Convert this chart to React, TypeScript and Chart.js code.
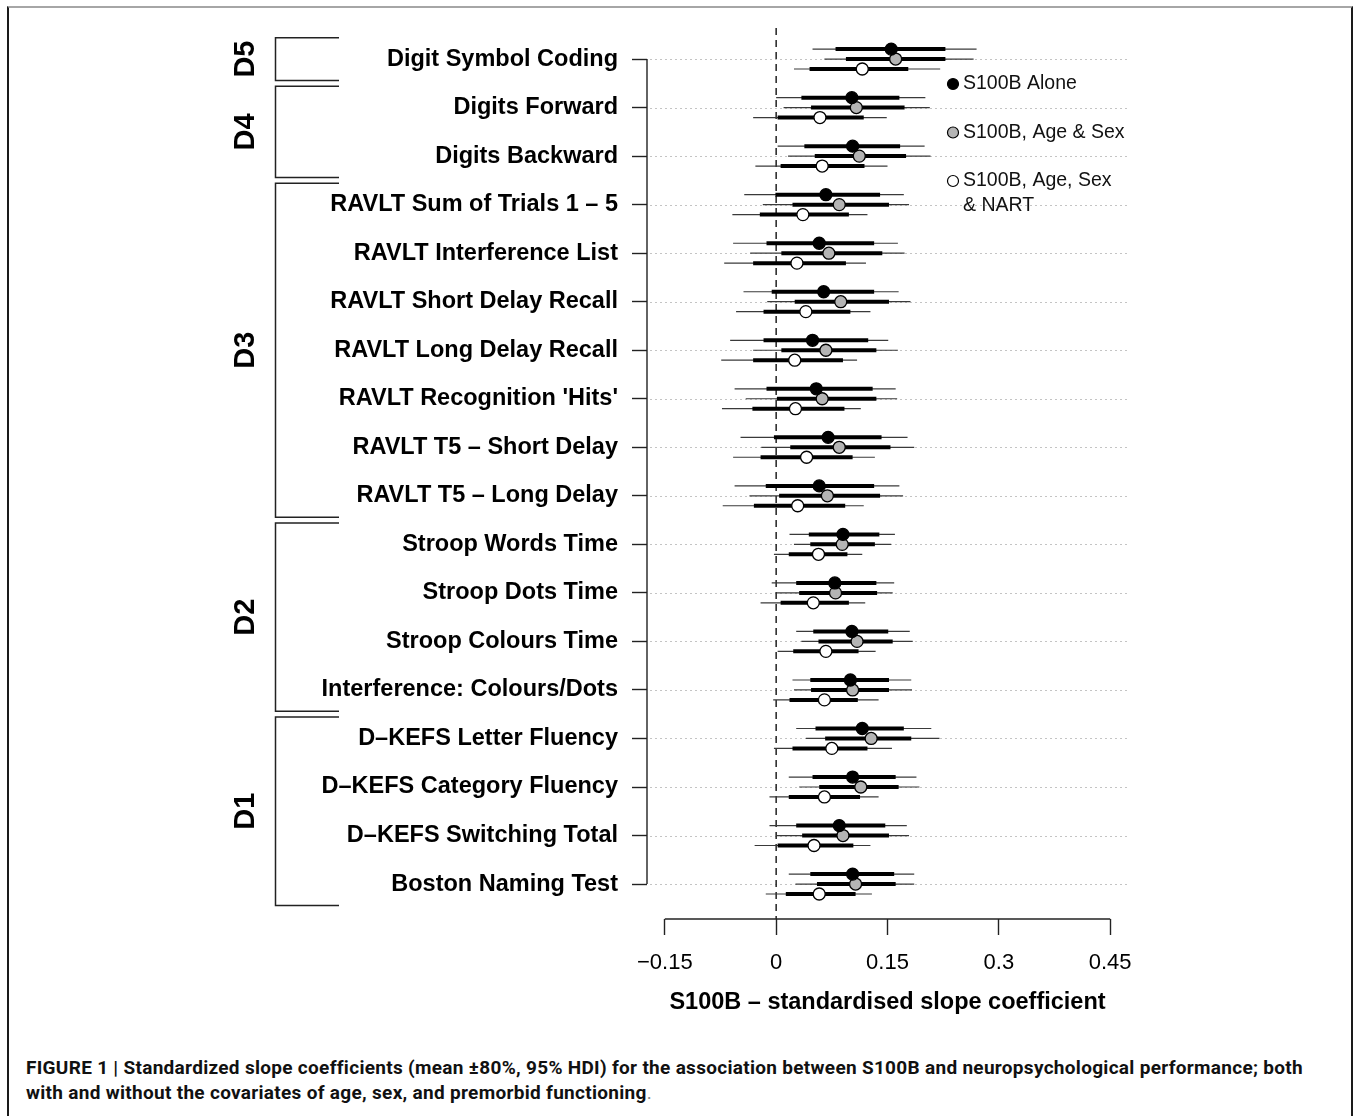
import { useEffect, useRef } from "react";
import { Chart, registerables } from "chart.js";

Chart.register(...registerables);

const categories = [
  "Digit Symbol Coding",
  "Digits Forward",
  "Digits Backward",
  "RAVLT Sum of Trials 1 \u2013 5",
  "RAVLT Interference List",
  "RAVLT Short Delay Recall",
  "RAVLT Long Delay Recall",
  "RAVLT Recognition 'Hits'",
  "RAVLT T5 \u2013 Short Delay",
  "RAVLT T5 \u2013 Long Delay",
  "Stroop Words Time",
  "Stroop Dots Time",
  "Stroop Colours Time",
  "Interference: Colours/Dots",
  "D\u2013KEFS Letter Fluency",
  "D\u2013KEFS Category Fluency",
  "D\u2013KEFS Switching Total",
  "Boston Naming Test",
];

const aloneMean = [0.155, 0.102, 0.103, 0.067, 0.058, 0.064, 0.049, 0.054, 0.070, 0.058, 0.090, 0.079, 0.102, 0.100, 0.116, 0.103, 0.085, 0.103];
const aloneLo80 = [0.080, 0.034, 0.038, -0.001, -0.013, -0.006, -0.017, -0.013, -0.003, -0.014, 0.044, 0.027, 0.050, 0.046, 0.053, 0.049, 0.027, 0.046];
const aloneHi80 = [0.228, 0.166, 0.167, 0.140, 0.132, 0.132, 0.124, 0.130, 0.142, 0.132, 0.139, 0.135, 0.151, 0.152, 0.172, 0.161, 0.147, 0.159];
const aloneLo95 = [0.049, 0.000, 0.002, -0.043, -0.058, -0.044, -0.062, -0.056, -0.048, -0.056, 0.018, -0.006, 0.027, 0.022, 0.027, 0.017, -0.009, 0.017];
const aloneHi95 = [0.270, 0.201, 0.200, 0.172, 0.164, 0.165, 0.151, 0.161, 0.177, 0.166, 0.160, 0.159, 0.180, 0.182, 0.209, 0.189, 0.176, 0.186];

const ageSexMean = [0.161, 0.108, 0.112, 0.085, 0.071, 0.087, 0.067, 0.062, 0.085, 0.069, 0.089, 0.080, 0.109, 0.103, 0.128, 0.114, 0.090, 0.107];
const ageSexLo80 = [0.094, 0.047, 0.052, 0.022, 0.007, 0.025, 0.007, 0.001, 0.019, 0.004, 0.046, 0.031, 0.057, 0.047, 0.066, 0.058, 0.035, 0.055];
const ageSexHi80 = [0.228, 0.173, 0.175, 0.152, 0.143, 0.152, 0.135, 0.135, 0.154, 0.140, 0.133, 0.136, 0.157, 0.152, 0.182, 0.165, 0.152, 0.161];
const ageSexLo95 = [0.065, 0.010, 0.016, -0.018, -0.035, -0.012, -0.031, -0.041, -0.020, -0.036, 0.024, 0.000, 0.034, 0.024, 0.040, 0.031, 0.001, 0.026];
const ageSexHi95 = [0.266, 0.207, 0.208, 0.179, 0.173, 0.181, 0.164, 0.163, 0.186, 0.171, 0.155, 0.157, 0.184, 0.183, 0.220, 0.193, 0.179, 0.186];

const nartMean = [0.116, 0.059, 0.062, 0.036, 0.028, 0.040, 0.025, 0.026, 0.041, 0.029, 0.057, 0.050, 0.067, 0.065, 0.075, 0.065, 0.051, 0.058];
const nartLo80 = [0.045, 0.002, 0.006, -0.022, -0.031, -0.017, -0.031, -0.032, -0.021, -0.030, 0.017, 0.006, 0.023, 0.018, 0.022, 0.017, 0.002, 0.013];
const nartHi80 = [0.178, 0.118, 0.119, 0.098, 0.094, 0.100, 0.090, 0.092, 0.103, 0.093, 0.096, 0.098, 0.111, 0.110, 0.123, 0.113, 0.104, 0.107];
const nartLo95 = [0.024, -0.031, -0.028, -0.059, -0.070, -0.054, -0.074, -0.073, -0.058, -0.072, -0.003, -0.021, 0.002, -0.004, -0.003, -0.009, -0.029, -0.014];
const nartHi95 = [0.221, 0.149, 0.150, 0.123, 0.121, 0.127, 0.109, 0.114, 0.133, 0.118, 0.116, 0.120, 0.134, 0.138, 0.156, 0.138, 0.127, 0.129];

const xTickValues = [-0.15, 0, 0.15, 0.3, 0.45];
const xTickLabels = ["\u22120.15", "0", "0.15", "0.3", "0.45"];

const domainLabels = ["D5", "D4", "D3", "D2", "D1"];
const domainFirst = [0, 1, 3, 10, 14];
const domainLast = [0, 2, 9, 13, 17];

const legendLines = [["S100B Alone"], ["S100B, Age & Sex"], ["S100B, Age, Sex", "& NART"]];
const axisTitle = "S100B \u2013 standardised slope coefficient";

const FONT = "'Liberation Sans', Arial, Helvetica, sans-serif";

const series = [
  { mean: aloneMean, lo80: aloneLo80, hi80: aloneHi80, lo95: aloneLo95, hi95: aloneHi95, fill: "#000000", off: -0.205 },
  { mean: ageSexMean, lo80: ageSexLo80, hi80: ageSexHi80, lo95: ageSexLo95, hi95: ageSexHi95, fill: "#b4b4b4", off: 0 },
  { mean: nartMean, lo80: nartLo80, hi80: nartHi80, lo95: nartLo95, hi95: nartHi95, fill: "#ffffff", off: 0.205 },
];

const overlay = {
  id: "overlay",
  beforeDatasetsDraw(chart: any) {
    const { ctx, chartArea, scales } = chart;
    const x = scales.x;
    const y = scales.y;
    ctx.save();
    ctx.strokeStyle = "#c4c4c4";
    ctx.lineWidth = 1;
    ctx.setLineDash([2, 3]);
    categories.forEach((_, i) => {
      const py = Math.round(y.getPixelForValue(i)) + 0.5;
      ctx.beginPath();
      ctx.moveTo(chartArea.left + 3, py);
      ctx.lineTo(chartArea.right, py);
      ctx.stroke();
    });
    ctx.strokeStyle = "#222";
    ctx.lineWidth = 1.5;
    ctx.setLineDash([7, 5]);
    const px0 = x.getPixelForValue(0);
    ctx.beginPath();
    ctx.moveTo(px0, chartArea.top);
    ctx.lineTo(px0, chartArea.bottom);
    ctx.stroke();
    ctx.restore();
  },
  afterDraw(chart: any) {
    const { ctx, chartArea, scales } = chart;
    const x = scales.x;
    const y = scales.y;
    ctx.save();
    ctx.setLineDash([]);
    ctx.strokeStyle = "#222";
    ctx.lineWidth = 1.4;
    ctx.beginPath();
    ctx.moveTo(x.getPixelForValue(xTickValues[0]), chartArea.bottom);
    ctx.lineTo(x.getPixelForValue(xTickValues[xTickValues.length - 1]), chartArea.bottom);
    ctx.stroke();
    ctx.beginPath();
    ctx.moveTo(chartArea.left, y.getPixelForValue(0));
    ctx.lineTo(chartArea.left, y.getPixelForValue(categories.length - 1));
    ctx.stroke();

    const bx = 275.5;
    const bxEnd = 339;
    ctx.lineWidth = 1.5;
    domainLabels.forEach((lab, k) => {
      const yTop = y.getPixelForValue(domainFirst[k] - 0.44);
      const yBot = y.getPixelForValue(domainLast[k] + 0.44);
      ctx.beginPath();
      ctx.moveTo(bxEnd, yTop);
      ctx.lineTo(bx, yTop);
      ctx.lineTo(bx, yBot);
      ctx.lineTo(bxEnd, yBot);
      ctx.stroke();
      const cy = y.getPixelForValue((domainFirst[k] + domainLast[k]) / 2);
      const size = 29;
      ctx.save();
      ctx.translate(243.5, cy);
      ctx.rotate(-Math.PI / 2);
      ctx.font = `bold ${size}px ${FONT}`;
      ctx.fillStyle = "#000";
      ctx.textAlign = "center";
      ctx.textBaseline = "alphabetic";
      ctx.fillText(lab, 0, size * 0.716 / 2);
      ctx.restore();
    });

    const lx = 953;
    const ty0 = 84;
    const rowStep = 48.5;
    ctx.font = `19.5px ${FONT}`;
    ctx.textAlign = "left";
    ctx.textBaseline = "middle";
    legendLines.forEach((lines, k) => {
      const ly = ty0 + k * rowStep;
      ctx.beginPath();
      ctx.arc(lx, ly, 5.5, 0, Math.PI * 2);
      ctx.fillStyle = series[k].fill;
      ctx.fill();
      ctx.lineWidth = 1.2;
      ctx.strokeStyle = "#000";
      ctx.stroke();
      ctx.fillStyle = "#111";
      lines.forEach((t, j) => ctx.fillText(t, lx + 10, ly + j * 25));
    });

    ctx.font = `bold 23.5px ${FONT}`;
    ctx.fillStyle = "#000";
    ctx.textAlign = "center";
    ctx.textBaseline = "middle";
    ctx.fillText(axisTitle, (chartArea.left + chartArea.right) / 2, chartArea.bottom + 84);
    ctx.restore();
  },
};

export default function App() {
  const ref = useRef<HTMLCanvasElement>(null);

  useEffect(() => {
    if (!ref.current) return;
    const datasets: any[] = [];
    series.forEach((s) => {
      datasets.push({
        label: "points",
        data: s.mean.map((m, i) => ({ x: m, y: i + s.off })),
        pointRadius: 6,
        pointBackgroundColor: s.fill,
        pointBorderColor: "#000",
        pointBorderWidth: 1.3,
        showLine: false,
      });
    });
    series.forEach((s) => {
      categories.forEach((_, i) => {
        datasets.push({
          label: "80",
          data: [
            { x: s.lo80[i], y: i + s.off },
            { x: s.hi80[i], y: i + s.off },
          ],
          showLine: true,
          borderColor: "#000",
          borderWidth: 4,
          borderCapStyle: "butt",
          pointRadius: 0,
        });
      });
    });
    series.forEach((s) => {
      categories.forEach((_, i) => {
        datasets.push({
          label: "95",
          data: [
            { x: s.lo95[i], y: i + s.off },
            { x: s.hi95[i], y: i + s.off },
          ],
          showLine: true,
          borderColor: "#3a3a3a",
          borderWidth: 1.2,
          borderCapStyle: "butt",
          pointRadius: 0,
        });
      });
    });

    const chart = new Chart(ref.current, {
      type: "scatter",
      data: { datasets },
      plugins: [overlay],
      options: {
        animation: false,
        responsive: false,
        devicePixelRatio: 1,
        events: [],
        layout: { padding: { left: 0, top: 28, right: 226, bottom: 0 } },
        plugins: { legend: { display: false }, tooltip: { enabled: false } },
        scales: {
          x: {
            type: "linear",
            min: -0.174,
            max: 0.474,
            border: { display: false },
            grid: {
              display: true,
              drawOnChartArea: false,
              drawTicks: true,
              tickLength: 16,
              tickColor: "#222",
              tickWidth: 1.4,
            },
            ticks: {
              autoSkip: false,
              maxRotation: 0,
              padding: 15,
              color: "#000",
              font: { family: FONT, size: 22 },
              callback: (v: any) => {
                const idx = xTickValues.indexOf(Number(v));
                return idx >= 0 ? xTickLabels[idx] : "";
              },
            },
            afterBuildTicks: (scale: any) => {
              scale.ticks = xTickValues.map((v) => ({ value: v }));
            },
            afterFit: (scale: any) => {
              scale.height = 121;
              scale.paddingLeft = 0;
              scale.paddingRight = 0;
            },
          },
          y: {
            type: "linear",
            reverse: true,
            min: -0.64,
            max: 17.72,
            border: { display: false },
            grid: {
              display: true,
              drawOnChartArea: false,
              drawTicks: true,
              tickLength: 15,
              tickColor: "#222",
              tickWidth: 1.4,
            },
            ticks: {
              autoSkip: false,
              padding: 14,
              color: "#000",
              font: { family: FONT, size: 23.5, weight: "bold" },
              callback: (v: any) => {
                const n = Number(v);
                return Number.isInteger(n) && categories[n] ? categories[n] : "";
              },
            },
            afterBuildTicks: (scale: any) => {
              scale.ticks = categories.map((_, i) => ({ value: i }));
            },
            afterFit: (scale: any) => {
              scale.width = 647;
              scale.paddingTop = 0;
              scale.paddingBottom = 0;
            },
          },
        },
      } as any,
    });
    return () => chart.destroy();
  }, []);

  return (
    <div
      style={{
        position: "absolute",
        left: 0,
        top: 0,
        width: 1354,
        height: 1116,
        overflow: "hidden",
        background: "#fff",
      }}
    >
      <div
        style={{
          position: "absolute",
          left: 7,
          top: 6,
          width: 1346,
          height: 1130,
          boxSizing: "border-box",
          borderTop: "2px solid #a6a6a6",
          borderLeft: "2px solid #1a1a1a",
          borderRight: "2px solid #1a1a1a",
        }}
      />
      <canvas ref={ref} width={1354} height={1040} style={{ position: "absolute", left: 0, top: 0 }} />
      <div
        style={{
          position: "absolute",
          left: 26,
          top: 1055,
          fontFamily: "Roboto, 'Liberation Sans', Arial, sans-serif",
          fontWeight: 700,
          fontSize: 19,
          letterSpacing: "0.3px",
          lineHeight: "25px",
          color: "#111",
          whiteSpace: "nowrap",
        }}
      >
        FIGURE 1 | Standardized slope coefficients (mean ±80%, 95% HDI) for the association between S100B and
        neuropsychological performance; both
        <br />
        with and without the covariates of age, sex, and premorbid functioning
        <span style={{ fontWeight: 400, color: "#888" }}>.</span>
      </div>
    </div>
  );
}
